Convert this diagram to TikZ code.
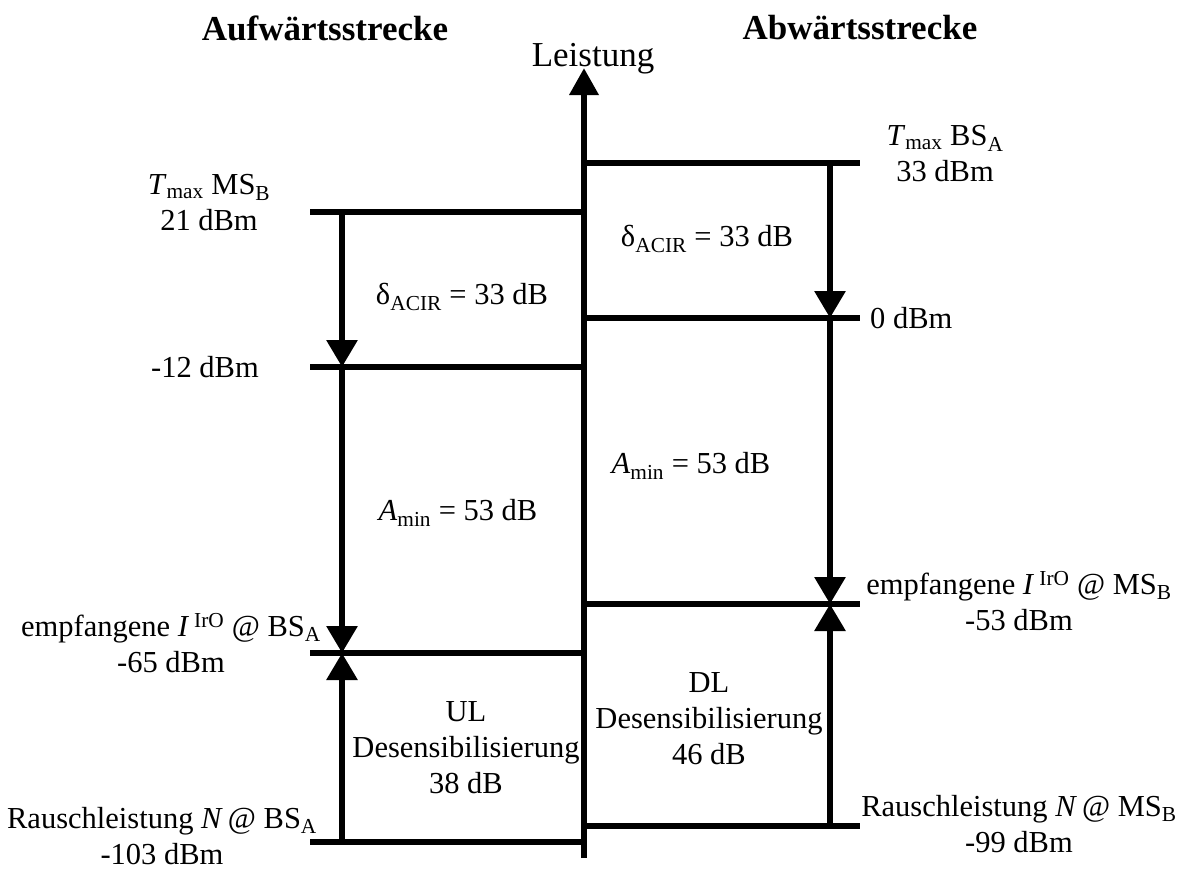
\documentclass[tikz,border=0pt]{standalone}
\usepackage{fontspec}
\setmainfont{Liberation Serif}
\usetikzlibrary{arrows.meta}
\begin{document}
\begin{tikzpicture}[x=1pt,y=-1pt,
  level/.style={line width=6pt},
  axisline/.style={line width=6.5pt,-{Triangle[length=27pt,width=28pt]}},
  gaparrow/.style={line width=6pt,-{Triangle[length=27pt,width=30pt]}},
  lbl/.style={font=\fontsize{30.5}{36}\selectfont, align=center, inner sep=0pt},
  head/.style={font=\fontsize{35}{42}\selectfont\bfseries, inner sep=0pt}]
\useasboundingbox (0,0) rectangle (1178,887);

% power axis
\coordinate (axb) at (584,858);
\coordinate (axt) at (584,68);
\draw[axisline] (axb) -- (axt);

% uplink levels (left of the axis)
\coordinate (u0) at (310,212); \coordinate (u0e) at (584,212);
\coordinate (u1) at (310,367); \coordinate (u1e) at (584,367);
\coordinate (u2) at (310,653); \coordinate (u2e) at (584,653);
\coordinate (u3) at (310,842); \coordinate (u3e) at (584,842);
\foreach \a/\b in {u0/u0e,u1/u1e,u2/u2e,u3/u3e} \draw[level] (\a) -- (\b);

% downlink levels (right of the axis)
\coordinate (d0) at (584,163); \coordinate (d0e) at (860,163);
\coordinate (d1) at (584,318); \coordinate (d1e) at (860,318);
\coordinate (d2) at (584,604); \coordinate (d2e) at (860,604);
\coordinate (d3) at (584,826); \coordinate (d3e) at (860,826);
\foreach \a/\b in {d0/d0e,d1/d1e,d2/d2e,d3/d3e} \draw[level] (\a) -- (\b);

% uplink gap arrows
\coordinate (ua0) at (342,212);
\coordinate (ua1) at (342,367);
\coordinate (ua2) at (342,653);
\coordinate (ua3) at (342,842);
\draw[gaparrow] (ua0) -- (ua1);
\draw[gaparrow] (ua1) -- (ua2);
\draw[gaparrow] (ua3) -- (ua2);

% downlink gap arrows
\coordinate (da0) at (830,163);
\coordinate (da1) at (830,318);
\coordinate (da2) at (830,604);
\coordinate (da3) at (830,826);
\draw[gaparrow] (da0) -- (da1);
\draw[gaparrow] (da1) -- (da2);
\draw[gaparrow] (da3) -- (da2);

% headings
\node[head] (hup) at (325,28) {Aufwärtsstrecke};
\node[head] (hdown) at (860,28) {Abwärtsstrecke};
\node[inner sep=0pt,font=\fontsize{35}{42}\selectfont,anchor=base] (axlabel) at (593,66) {Leistung};

% uplink labels
\node[lbl] (tms) at (209,203) {\textit{T}\textsubscript{max} MS\textsubscript{B}\\21 dBm};
\node[lbl] (ulm12) at (205,367) {-12 dBm};
\node[lbl] (ulacir) at (462,297) {δ\textsubscript{ACIR} = 33 dB};
\node[lbl] (ulamin) at (458,513) {\textit{A}\textsubscript{min} = 53 dB};
\node[lbl] (ulirx) at (171,643) {empfangene \textit{I}\,\textsuperscript{IrO} @ BS\textsubscript{A}\\-65 dBm};
\node[lbl] (uldes) at (466,748) {UL\\Desensibilisierung\\38 dB};
\node[lbl] (ulnoise) at (162,836) {Rauschleistung \textit{N}\,@ BS\textsubscript{A}\\-103 dBm};

% downlink labels
\node[lbl] (tbs) at (945,154) {\textit{T}\textsubscript{max} BS\textsubscript{A}\\33 dBm};
\node[lbl,anchor=west] (dl0) at (870,318) {0 dBm};
\node[lbl] (dlacir) at (707,239) {δ\textsubscript{ACIR} = 33 dB};
\node[lbl] (dlamin) at (691,466) {\textit{A}\textsubscript{min} = 53 dB};
\node[lbl] (dlirx) at (1019,601) {empfangene \textit{I}\,\textsuperscript{IrO} @ MS\textsubscript{B}\\-53 dBm};
\node[lbl] (dldes) at (709,719) {DL\\Desensibilisierung\\46 dB};
\node[lbl] (dlnoise) at (1019,824) {Rauschleistung \textit{N}\,@ MS\textsubscript{B}\\-99 dBm};
\end{tikzpicture}
\end{document}
